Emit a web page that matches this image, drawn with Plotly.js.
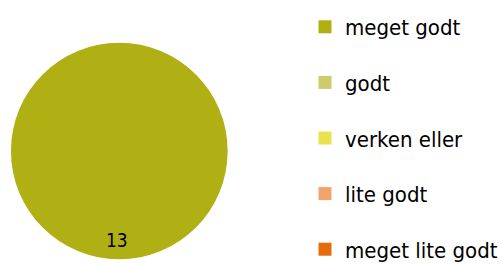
<!DOCTYPE html>
<html><head><meta charset="utf-8">
<script src="https://cdn.plot.ly/plotly-3.0.1.min.js"></script>
<style>html,body{margin:0;padding:0;background:#fff;overflow:hidden}#c{width:503px;height:272px}</style>
</head><body><div id="c"></div>
<script>
const labels = ["meget godt", "godt", "verken eller", "lite godt", "meget lite godt"];
const values = [13, 0, 0, 0, 0];
const colors = ["#B0AF14", "#CDCB6A", "#EAE24C", "#F0A46C", "#E46C0A"];

const H = 272;
const pie = {
  type: "pie",
  labels: labels,
  values: values,
  marker: {colors: colors, line: {width: 0}},
  textinfo: "none",
  hoverinfo: "label+value",
  sort: false,
  showlegend: false,
  domain: {x: [11/503, 229/503], y: [(H - 260)/H, (H - 42)/H]}
};

// legend entries (one per category, same labels/colours as the pie)
const legendTraces = labels.map((lab, i) => ({
  type: "scatter", mode: "markers",
  x: [null], y: [null],
  name: lab,
  marker: {symbol: "square", size: 13, color: colors[i], line: {width: 0}},
  legendgroup: "g" + i,
  showlegend: true,
  hoverinfo: "skip"
}));

const layout = {
  width: 503, height: H,
  margin: {l: 0, r: 0, t: 0, b: 0},
  paper_bgcolor: "#fff",
  plot_bgcolor: "rgba(0,0,0,0)",
  xaxis: {visible: false}, yaxis: {visible: false},
  showlegend: true,
  legend: {
    x: 0.61, y: 1 - 6/H, xanchor: "left", yanchor: "top",
    font: {family: "DejaVu Sans Condensed", size: 22, color: "#000"},
    bgcolor: "rgba(0,0,0,0)",
    tracegroupgap: 24, itemwidth: 30, traceorder: "grouped"
  },
  annotations: [{
    text: String(values[0]), x: 118/503, y: 1 - 240/H, xref: "paper", yref: "paper",
    xanchor: "center", yanchor: "middle",
    showarrow: false, font: {family: "DejaVu Sans Condensed", size: 19, color: "#000"}
  }]
};
Plotly.newPlot("c", [pie].concat(legendTraces), layout, {staticPlot: true});
</script></body></html>
